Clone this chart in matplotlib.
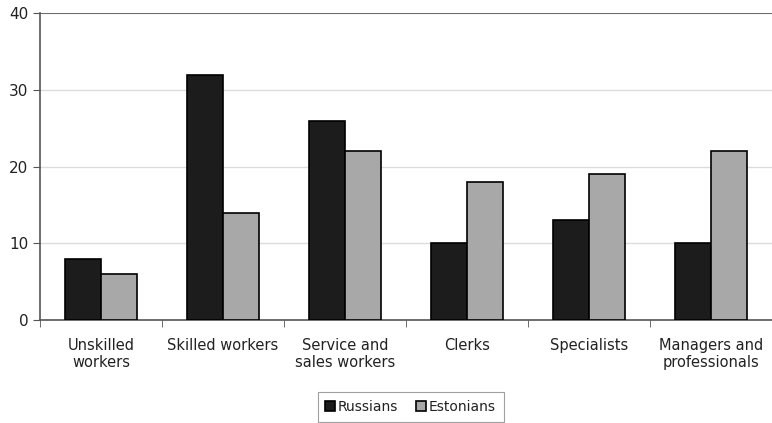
import numpy as np
from matplotlib import pyplot as plt

categories = ['Unskilled\nworkers', 'Skilled workers', 'Service and\nsales workers',
              'Clerks', 'Specialists', 'Managers and\nprofessionals']
russians = [8, 32, 26, 10, 13, 10]
estonians = [6, 14, 22, 18, 19, 22]

plt.rcParams['font.family'] = ['DejaVu Sans']

fig = plt.figure(figsize=(7.72, 4.23), dpi=100)
ax = fig.add_axes([0.052, 0.243, 0.948, 0.726])

x = np.arange(len(categories))
w = 0.295
ax.bar(x - w / 2, russians, width=w, color='#1c1c1c', edgecolor='black', linewidth=1.2, label='Russians', zorder=3)
ax.bar(x + w / 2, estonians, width=w, color='#a8a8a8', edgecolor='black', linewidth=1.2, label='Estonians', zorder=3)

ax.set_xlim(-0.5, len(categories) - 0.5)
ax.set_ylim(0, 40)
ax.set_yticks([0, 10, 20, 30, 40])
ax.yaxis.grid(True, color='#dcdcdc', linewidth=1, zorder=0)
ax.axhline(40, color='#555555', linewidth=1.2, zorder=2)

ax.set_xticks(x)
ax.set_xticklabels(categories, fontsize=10.5, color='#222222', linespacing=1.15)
ax.set_xticks(np.arange(len(categories) + 1) - 0.5, minor=True)
ax.tick_params(axis='x', which='major', length=0, pad=13)
ax.tick_params(axis='x', which='minor', length=5, color='#555555')
ax.tick_params(axis='y', length=5, color='#555555', labelsize=11, labelcolor='#222222')

for s in ['top', 'right']:
    ax.spines[s].set_visible(False)
for s in ['left', 'bottom']:
    ax.spines[s].set_color('#555555')
    ax.spines[s].set_linewidth(1.2)

leg = fig.legend(loc='center', bbox_to_anchor=(0.532, 0.038), ncol=2, fontsize=10,
                 frameon=True, fancybox=False, edgecolor='#888888', handlelength=0.7,
                 handleheight=0.7, handletextpad=0.2, columnspacing=1.3, borderpad=0.55,
                 borderaxespad=0)
leg.get_frame().set_linewidth(0.8)
for t in leg.get_texts():
    t.set_color('#222222')

plt.savefig('out.png', dpi=100)
